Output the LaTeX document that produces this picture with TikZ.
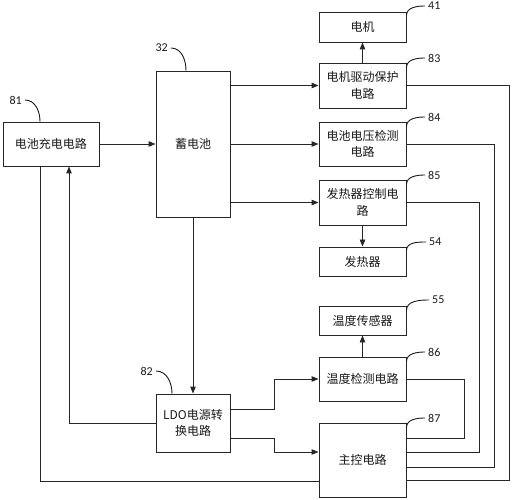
\documentclass[tikz,border=0pt]{standalone}
\usepackage{fontspec}
\setmainfont{Carlito}
\newfontfamily\cjk{Noto Sans CJK SC}
\usetikzlibrary{arrows.meta,calc}
\begin{document}
\begin{tikzpicture}[x=1pt,y=-1pt,
  box/.style={draw=black!85, line width=0.9pt, fill=white, inner sep=0pt, align=center,
    font=\cjk\fontsize{12}{16.5}\selectfont, text=black!90},
  num/.style={font=\fontsize{12}{14}\selectfont, inner sep=3pt, text=black!90},
  wire/.style={draw=black!85, line width=0.9pt},
  arr/.style={wire, -{Triangle[length=7pt,width=5.5pt]}},
  lead/.style={draw=black!90, line width=0.9pt}]
\useasboundingbox (0,0) rectangle (512,500);

% boxes
\node[box, minimum width=96pt, minimum height=44pt] (b81) at (51,144) {电池充电电路};
\node[box, minimum width=74pt, minimum height=146pt] (b32) at (193,144) {蓄电池};
\node[box, minimum width=87pt, minimum height=30pt] (b41) at (362.5,27) {电机};
\node[box, minimum width=87pt, minimum height=45pt] (b83) at (362.5,85.5) {电机驱动保护\\电路};
\node[box, minimum width=87pt, minimum height=44pt] (b84) at (362.5,144) {电池电压检测\\电路};
\node[box, minimum width=87pt, minimum height=45pt] (b85) at (362.5,202.5) {发热器控制电\\路};
\node[box, minimum width=87pt, minimum height=29pt] (b54) at (362.5,261.5) {发热器};
\node[box, minimum width=87pt, minimum height=29pt] (b55) at (362.5,320.5) {温度传感器};
\node[box, minimum width=87pt, minimum height=44pt] (b86) at (362.5,379) {温度检测电路};
\node[box, minimum width=87pt, minimum height=74pt] (b87) at (362.5,460) {主控电路};
\node[box, minimum width=74pt, minimum height=58pt] (b82) at (193,423) {LDO电源转\\换电路};

% reference numbers
\node[num, anchor=east] (l81) at (25,100) {81};
\node[num, anchor=east] (l32) at (171,48) {32};
\node[num, anchor=east] (l82) at (156,371) {82};
\node[num, anchor=west] (l41) at (425,6) {41};
\node[num, anchor=west] (l83) at (425,58) {83};
\node[num, anchor=west] (l84) at (425,117) {84};
\node[num, anchor=west] (l85) at (425,175) {85};
\node[num, anchor=west] (l54) at (426,242) {54};
\node[num, anchor=west] (l55) at (429,300) {55};
\node[num, anchor=west] (l86) at (425,352) {86};
\node[num, anchor=west] (l87) at (425,418) {87};

% leaders
\draw[lead] (l81.east) to[out=0,in=90] ($(b81.north)+(-11,0)$);
\draw[lead] (l32.east) to[out=0,in=90] ($(b32.north)+(-7,0)$);
\draw[lead] (l82.east) to[out=0,in=90] ($(b82.north)+(-21,0)$);
\draw[lead] ($(b41.north east)+(0,4)$) to[out=90,in=180] (l41.west);
\draw[lead] ($(b83.north east)+(0,5)$) to[out=90,in=180] (l83.west);
\draw[lead] ($(b84.north east)+(0,5)$) to[out=90,in=180] (l84.west);
\draw[lead] ($(b85.north east)+(0,5)$) to[out=90,in=180] (l85.west);
\draw[lead] ($(b54.north east)+(0,4)$) to[out=90,in=180] (l54.west);
\draw[lead] ($(b55.north east)+(0,5)$) to[out=90,in=180] (l55.west);
\draw[lead] ($(b86.north east)+(0,5)$) to[out=90,in=180] (l86.west);
\draw[lead] ($(b87.north east)+(0,5)$) to[out=90,in=180] (l87.west);

% connectors
\draw[arr] (b81.east) -- (b32.west);
\draw[arr] (b32.east |- b83.west) -- (b83.west);
\draw[arr] (b32.east) -- (b84.west);
\draw[arr] (b32.east |- b85.west) -- (b85.west);
\draw[arr] (b83.north) -- (b41.south);
\draw[arr] (b85.south) -- (b54.north);
\draw[arr] (b86.north) -- (b55.south);
\draw[arr] (b32.south) -- (b82.north);
\draw[arr] (b82.west) -| ($(b81.south)+(18,0)$);
\draw[wire] ($(b81.south)+(-11,0)$) |- ($(b87.west)+(0,21)$);
\draw[arr] ($(b82.east)+(0,-14)$) -- ++(44,0) |- (b86.west);
\draw[arr] ($(b82.east)+(0,15)$) -- ++(44,0) |- ($(b87.west)+(0,-8)$);
\draw[wire] ($(b87.east)+(0,-22)$) -- ++(58,0) |- (b86.east);
\draw[wire] ($(b87.east)+(0,-8)$) -- ++(73,0) |- (b85.east);
\draw[wire] ($(b87.east)+(0,7)$) -- ++(88,0) |- (b84.east);
\draw[wire] ($(b87.east)+(0,20)$) -- ++(103,0) |- (b83.east);
\end{tikzpicture}
\end{document}
